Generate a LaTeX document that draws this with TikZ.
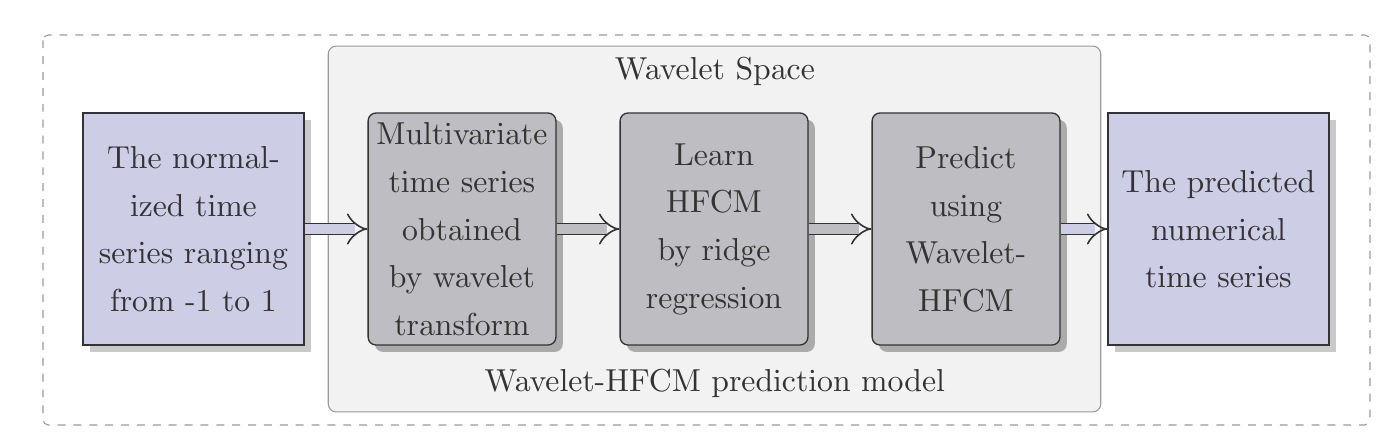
\documentclass[tikz,border=0pt]{standalone}
\usepackage{tikz}
\usetikzlibrary{shadows,positioning,arrows.meta}
\definecolor{lav}{RGB}{205,205,230}
\definecolor{boxgray}{RGB}{190,190,194}
\definecolor{spacegray}{RGB}{242,242,242}
\definecolor{ink}{RGB}{51,51,51}
\font\boxfont=cmr10 at 12pt

\begin{document}
\begin{tikzpicture}[x=0.378pt,y=-0.378pt,
    font={\fontsize{12}{18}\selectfont\boxfont}, text=ink,
    base/.style={draw=ink, line width=0.5pt, align=center, inner sep=3pt, minimum height=87.7pt},
    io/.style={base, fill=lav, minimum width=83.5pt,
        drop shadow={fill=black!21, opacity=1, shadow xshift=2.6pt, shadow yshift=-2.6pt}},
    stage/.style={base, fill=boxgray, rounded corners=3pt, minimum width=71pt,
        drop shadow={fill=black!33, opacity=1, shadow xshift=2.6pt, shadow yshift=-2.6pt}},
    flow/.style={draw=ink, line width=0.6pt, double distance=3.6pt, -Implies},
]
    \useasboundingbox (0,0) rectangle (1395,447);
    % outer frame and wavelet space
    \draw[black!40, dashed, rounded corners=2pt] (43,35) rectangle (1370,425);
    \node[draw=black!40, fill=spacegray, rounded corners=3pt, minimum width=292pt, minimum height=138.3pt] (space) at (714.5,229) {};
    \node (top) at (715,72) {Wavelet Space};
    \node (bottom) at (715,384) {Wavelet-HFCM prediction model};

    \node[io] (input) at (193.5,229) {The normal-\\ized time\\series ranging\\from -1 to 1};
    \node[stage] (decomp) at (462,229) {Multivariate\\time series\\obtained\\by wavelet\\transform};
    \node[stage] (learn) at (714,229) {Learn\\HFCM\\by ridge\\regression};
    \node[stage] (predict) at (966,229) {Predict\\using\\Wavelet-\\HFCM};
    \node[io] (output) at (1218.5,229) {The predicted\\numerical\\time series};

    \draw[flow, double=lav] (input) -- (decomp);
    \draw[flow, double=boxgray] (decomp) -- (learn);
    \draw[flow, double=boxgray] (learn) -- (predict);
    \draw[flow, double=lav] (predict) -- (output);
\end{tikzpicture}
\end{document}
